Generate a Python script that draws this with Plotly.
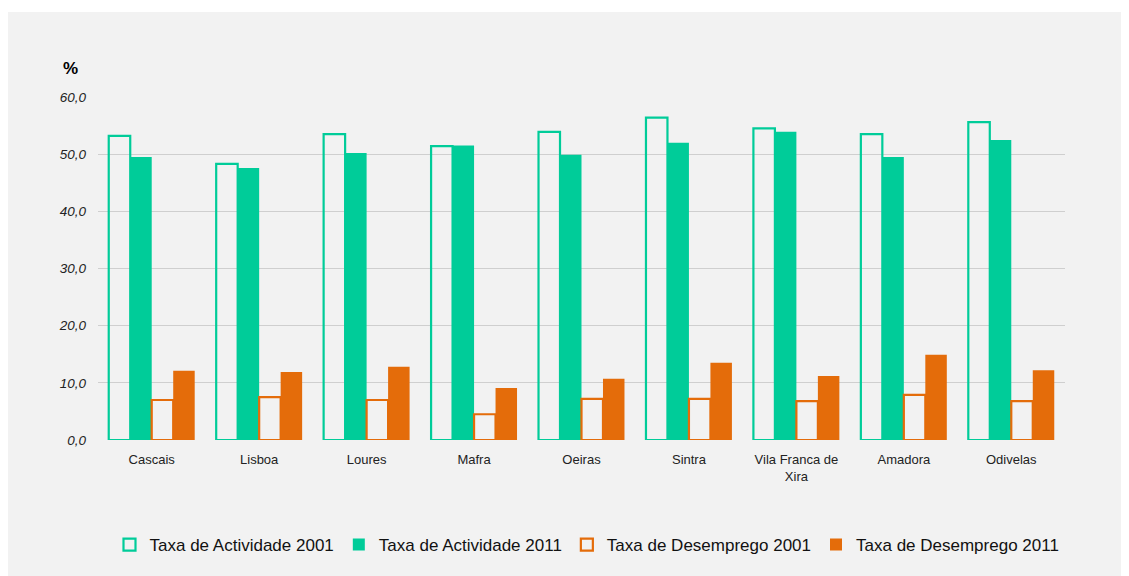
import plotly.graph_objects as go

categories = ["Cascais", "Lisboa", "Loures", "Mafra", "Oeiras", "Sintra",
              "Vila Franca de<br>Xira", "Amadora", "Odivelas"]
actividade_2001 = [53.2, 48.3, 53.5, 51.4, 53.9, 56.4, 54.5, 53.5, 55.6]
actividade_2011 = [49.5, 47.6, 50.2, 51.5, 49.9, 52.0, 53.9, 49.5, 52.5]
desemprego_2001 = [7.0, 7.5, 7.0, 4.5, 7.2, 7.2, 6.8, 7.9, 6.8]
desemprego_2011 = [12.1, 11.9, 12.8, 9.1, 10.7, 13.5, 11.2, 14.9, 12.2]
y_ticks = [0, 10, 20, 30, 40, 50, 60]
y_tick_labels = ["0,0", "10,0", "20,0", "30,0", "40,0", "50,0", "60,0"]

GREEN = "#00CC99"
ORANGE = "#E46C0A"
FONT = "Liberation Sans, Arial, sans-serif"

fig = go.Figure()
fig.add_bar(x=categories, y=actividade_2001, name="Taxa de Actividade 2001",
            marker=dict(color="rgba(0,0,0,0)", line=dict(color=GREEN, width=2.2)))
fig.add_bar(x=categories, y=actividade_2011, name="Taxa de Actividade 2011",
            marker=dict(color=GREEN, line=dict(width=0)))
fig.add_bar(x=categories, y=desemprego_2001, name="Taxa de Desemprego 2001",
            marker=dict(color="rgba(0,0,0,0)", line=dict(color=ORANGE, width=2.2)))
fig.add_bar(x=categories, y=desemprego_2011, name="Taxa de Desemprego 2011",
            marker=dict(color=ORANGE, line=dict(width=0)))

# page is offset by the 8px body margin
OFF = 8
W, H = 1129 - OFF, 576 - OFF
L, T = 98 - OFF, 97 - OFF
PLOT_R, PLOT_B = 1065 - OFF, 440 - OFF
R, B = W - PLOT_R, H - PLOT_B
pw, ph = W - L - R, H - T - B

def px_x(px):
    return (px - OFF - L) / pw

def px_y(py):
    return (H - B - (py - OFF)) / ph

fig.add_shape(type="rect", xref="paper", yref="paper",
              x0=px_x(0), x1=px_x(1140),
              y0=px_y(590), y1=px_y(12),
              fillcolor="#F2F2F2", line=dict(width=0), layer="below")

fig.add_annotation(text="<b>%</b>", xref="paper", yref="paper",
                   x=px_x(70), y=px_y(69), xanchor="center", yanchor="middle",
                   showarrow=False, font=dict(family=FONT, size=17, color="#000"))

fig.update_layout(
    width=W, height=H,
    margin=dict(l=L, r=R, t=T, b=B, pad=0, autoexpand=False),
    paper_bgcolor="white", plot_bgcolor="rgba(0,0,0,0)",
    barmode="group", bargap=0.2, bargroupgap=0,
    font=dict(family=FONT, color="#222"),
    showlegend=True,
    legend=dict(orientation="h", xanchor="center", yanchor="middle",
                x=px_x(587), y=px_y(545),
                font=dict(family=FONT, size=17, color="#111"),
                bgcolor="rgba(0,0,0,0)", itemwidth=30),
    xaxis=dict(showgrid=False, showline=False, ticks="",
               ticklabelstandoff=10,
               tickfont=dict(family=FONT, size=13, color="#222")),
    yaxis=dict(range=[0, 60], tickvals=y_ticks, ticktext=y_tick_labels,
               showgrid=True, gridcolor="#CFCFCF", gridwidth=1,
               zeroline=False, showline=False, ticks="", ticklabelstandoff=11,
               tickfont=dict(family=FONT, size=13.5, color="#222", style="italic")),
)

fig.write_html("out.html")
